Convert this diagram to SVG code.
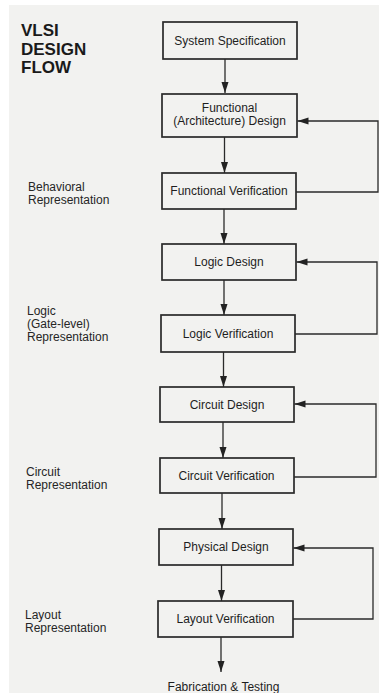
<svg xmlns="http://www.w3.org/2000/svg" width="383" height="693" viewBox="0 0 383 693">
<defs>
<marker id="ah" markerUnits="userSpaceOnUse" markerWidth="12" markerHeight="8" refX="11" refY="3.5" orient="auto">
<path d="M0,0 L11,3.5 L0,7 z" fill="#222"/>
</marker>
</defs>
<style>
.bx{fill:none;stroke:#2a2a2a;stroke-width:1.7}
.t{font-family:"Liberation Sans",Arial,sans-serif;font-size:12px;fill:#1e1e1e;text-anchor:middle}
.l{font-family:"Liberation Sans",Arial,sans-serif;font-size:12px;fill:#262626}
.h{font-family:"Liberation Sans",Arial,sans-serif;font-size:17px;font-weight:bold;fill:#1a1a1a}
.c{fill:none;stroke:#2a2a2a;stroke-width:1.3}
</style>
<rect x="0" y="0" width="383" height="693" fill="#ffffff"/>
<rect x="9" y="5" width="370" height="688" fill="#f2f2f0"/>
<g id="title">
<text class="h" x="21" y="36">VLSI</text>
<text class="h" x="21" y="55">DESIGN</text>
<text class="h" x="21" y="73">FLOW</text>
</g>
<g id="lab-behavioral">
<text class="l" x="28" y="191">Behavioral</text>
<text class="l" x="28" y="204">Representation</text>
</g>
<g id="lab-logic">
<text class="l" x="27" y="314.5">Logic</text>
<text class="l" x="27" y="327.5">(Gate-level)</text>
<text class="l" x="27" y="340.5">Representation</text>
</g>
<g id="lab-circuit">
<text class="l" x="26" y="476">Circuit</text>
<text class="l" x="26" y="489">Representation</text>
</g>
<g id="lab-layout">
<text class="l" x="25" y="619">Layout</text>
<text class="l" x="25" y="632">Representation</text>
</g>
<g id="n1"><rect class="bx" x="163" y="22" width="134" height="37"/><text class="t" x="230" y="44.5">System Specification</text></g>
<g id="n2"><rect class="bx" x="162" y="94" width="135" height="43"/><text class="t" x="229.5" y="112">Functional</text><text class="t" x="229.5" y="125">(Architecture) Design</text></g>
<g id="n3"><rect class="bx" x="162" y="173" width="134" height="36"/><text class="t" x="229" y="195">Functional Verification</text></g>
<g id="n4"><rect class="bx" x="162" y="244" width="134" height="36"/><text class="t" x="229" y="266">Logic Design</text></g>
<g id="n5"><rect class="bx" x="161" y="315" width="134" height="37"/><text class="t" x="228" y="337.5">Logic Verification</text></g>
<g id="n6"><rect class="bx" x="160" y="387" width="134" height="35"/><text class="t" x="227" y="408.5">Circuit Design</text></g>
<g id="n7"><rect class="bx" x="160" y="458" width="134" height="35"/><text class="t" x="226.5" y="479.5">Circuit Verification</text></g>
<g id="n8"><rect class="bx" x="159" y="529" width="134" height="36"/><text class="t" x="226" y="551">Physical Design</text></g>
<g id="n9"><rect class="bx" x="158" y="601" width="135" height="36"/><text class="t" x="225.5" y="623">Layout Verification</text></g>
<g id="n10"><text class="t" x="223.5" y="691">Fabrication &amp; Testing</text></g>
<g id="connectors">
<path class="c" d="M225,59 V93" marker-end="url(#ah)"/>
<path class="c" d="M224.5,137 V173" marker-end="url(#ah)"/>
<path class="c" d="M224,209 V244" marker-end="url(#ah)"/>
<path class="c" d="M224,280 V315" marker-end="url(#ah)"/>
<path class="c" d="M223.5,352 V387" marker-end="url(#ah)"/>
<path class="c" d="M223,422 V458" marker-end="url(#ah)"/>
<path class="c" d="M222,493 V529" marker-end="url(#ah)"/>
<path class="c" d="M221.5,565 V601" marker-end="url(#ah)"/>
<path class="c" d="M221,637 V672" marker-end="url(#ah)"/>
<path class="c" d="M296,192 H378 V121 H297.5" marker-end="url(#ah)"/>
<path class="c" d="M295,334 H377 V262 H296.5" marker-end="url(#ah)"/>
<path class="c" d="M294,477 H376 V404 H294.5" marker-end="url(#ah)"/>
<path class="c" d="M293,619 H373 V548 H293.5" marker-end="url(#ah)"/>
</g>
</svg>
